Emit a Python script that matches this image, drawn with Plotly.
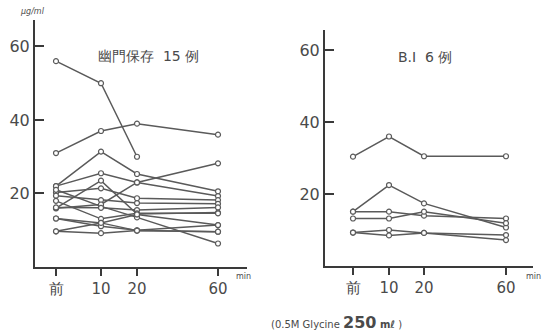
import plotly.graph_objects as go

# ---- data ----
time_labels = ["前", "10", "20", "60"]

# 幽門保存 15例 (μg/ml)
left_series = [
    [56, 50, 30, None],
    [31, 37, 39, 36],
    [22, 31.4, 25.3, 20.6],
    [22, 25.5, 23, 19.3],
    [20.3, 21.4, 18.7, 18.2],
    [19.4, 18.2, 17.4, 17.2],
    [21, 16.5, 13.5, 6.4],
    [16, 23.5, 14.4, 14.8],
    [16, 17, 23, 28.2],
    [16.2, 16.1, 15.5, 16.2],
    [18, 13.1, 14.6, 14.6],
    [13.2, 12, 14.3, 11.4],
    [13.2, 11.1, 10, 11.4],
    [9.7, 12, 9.9, 9.6],
    [9.7, 9.2, 9.9, 9.6],
]

# B.I 6例 (μg/ml)
right_series = [
    [30.4, 36, 30.5, 30.5],
    [15.1, 22.5, 17.4, 10.7],
    [15.1, 15.1, 14, 13.2],
    [13.2, 13.2, 15.1, 11.9],
    [9.3, 10, 9.2, 8.6],
    [9.3, 8.5, 9.2, 7.2],
]

y_ticks = [20, 40, 60]

# ---- layout helpers (positions of time points along each x axis) ----
XPOS_L = [0, 45, 81, 162]
XPOS_R = [0, 36, 71, 153]

W, H = 548, 334
LINE_C = "#5a5a5a"
AX_C = "#3a3a3a"
TXT_C = "#4a4a4a"
FONT = "DejaVu Sans"

fig = go.Figure()

def add_series(series, xpos, xa, ya):
    for s in series:
        fig.add_trace(go.Scatter(
            x=xpos, y=s, xaxis=xa, yaxis=ya, mode="lines+markers",
            line=dict(color=LINE_C, width=1.5),
            marker=dict(symbol="circle", size=5, color="white",
                        line=dict(color=LINE_C, width=1.2)),
            connectgaps=False, showlegend=False, hoverinfo="skip"))

add_series(left_series, XPOS_L, "x", "y")
add_series(right_series, XPOS_R, "x2", "y2")

def px_x(p):
    return p / W

def px_y(p):
    return 1 - p / H

common_x = dict(showgrid=False, zeroline=False, showline=True, linecolor=AX_C,
                linewidth=2, ticks="outside", ticklen=7, tickwidth=1.5,
                tickcolor=AX_C, tickfont=dict(family=FONT, size=15, color=TXT_C),
                tickmode="array", ticktext=time_labels)
common_y = dict(showgrid=False, zeroline=False, showline=True, linecolor=AX_C,
                linewidth=2, ticks="inside", ticklen=9, tickwidth=1.5,
                tickcolor=AX_C, tickfont=dict(family=FONT, size=16, color=TXT_C),
                tickmode="array", tickvals=y_ticks)

fig.update_layout(
    width=W, height=H, margin=dict(l=0, r=0, t=0, b=0),
    paper_bgcolor="white", plot_bgcolor="white",
    xaxis=dict(common_x, domain=[px_x(35), px_x(247)], range=[-21, 191],
               tickvals=XPOS_L, anchor="y"),
    yaxis=dict(common_y, domain=[px_y(267), px_y(20)], range=[0, 67.2],
               anchor="x"),
    xaxis2=dict(common_x, domain=[px_x(325), px_x(533)], range=[-28, 180],
                tickvals=XPOS_R, anchor="y2"),
    yaxis2=dict(common_y, domain=[px_y(266), px_y(30)], range=[0, 65.6],
                anchor="x2"),
)

annots = [
    dict(text="幽門保存  15 例", x=px_x(149), y=px_y(56), size=14, xa="center"),
    dict(text="B.I  6 例", x=px_x(425), y=px_y(57), size=14, xa="center"),
    dict(text="<i>μg/ml</i>", x=px_x(32), y=px_y(12), size=8, xa="center"),
    dict(text="min", x=px_x(234), y=px_y(276), size=8, xa="left"),
    dict(text="min", x=px_x(524), y=px_y(276), size=8, xa="left"),
    dict(text="(0.5M Glycine <b><span style='font-size:16px'>250</span> mℓ</b> )",
         x=px_x(336), y=px_y(322), size=10, xa="center"),
]
for a in annots:
    fig.add_annotation(text=a["text"], x=a["x"], y=a["y"], xref="paper",
                       yref="paper", showarrow=False, xanchor=a["xa"],
                       yanchor="middle",
                       font=dict(family=FONT, size=a["size"], color=TXT_C))

fig.write_html("out.html", config={"displayModeBar": False},
               post_script="document.body.style.margin='0';")
